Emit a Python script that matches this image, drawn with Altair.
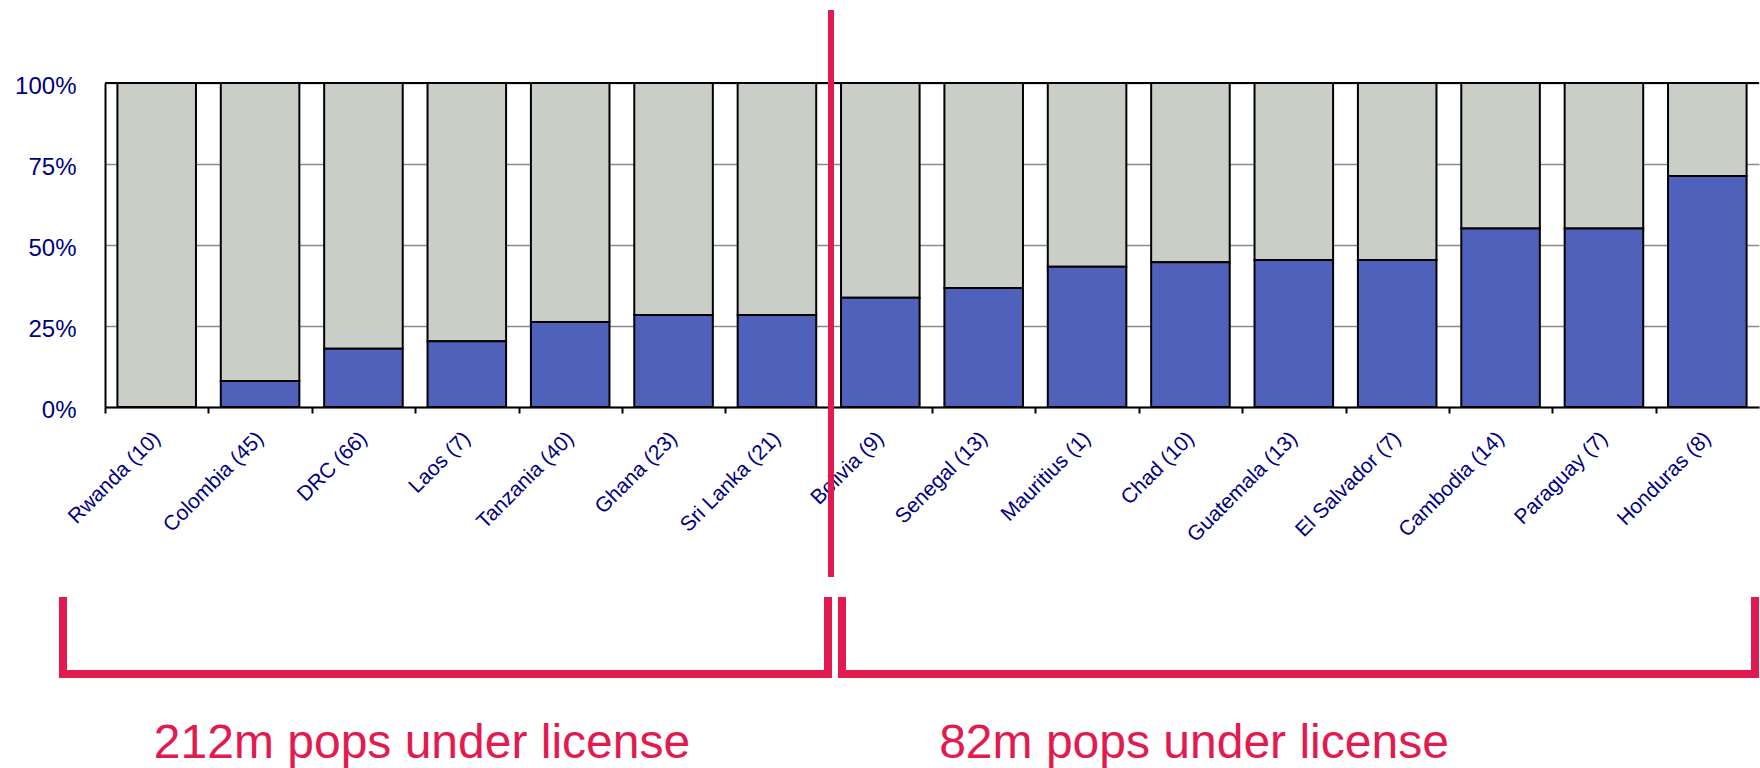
import altair as alt
import pandas as pd

# Countries with their licence counts, and the share held (percent) per market
countries = ["Rwanda", "Colombia", "DRC", "Laos", "Tanzania", "Ghana", "Sri Lanka",
             "Bolivia", "Senegal", "Mauritius", "Chad", "Guatemala", "El Salvador",
             "Cambodia", "Paraguay", "Honduras"]
licences = [10, 45, 66, 7, 40, 23, 21, 9, 13, 1, 10, 13, 7, 14, 7, 8]
share_pct = [0, 8, 18, 20.3, 26.2, 28.4, 28.4, 33.7, 36.7, 43.3, 44.7, 45.4, 45.4,
             55.1, 55.1, 71.3]

group_labels = ["212m pops under license", "82m pops under license"]

BLUE = "#5061BB"
GREY = "#C9CEC7"
NAVY = "#000080"
RED = "#E31A50"
FONT = "Liberation Sans"

PLOT_W = 1654
STEP = PLOT_W / len(countries)

df = pd.DataFrame({
    "label": [f"{c} ({n})" for c, n in zip(countries, licences)],
    "share": [v / 100 for v in share_pct],
})

# ticks sit between categories; labels stay centred under each bar
x_enc = alt.X(
    "label:N", sort=None, title=None,
    scale=alt.Scale(paddingInner=0.24, paddingOuter=0.12),
    axis=alt.Axis(
        labelAngle=-45, labelAlign="right", labelBaseline="middle",
        labelFont=FONT, labelFontSize=21, labelColor=NAVY,
        labelPadding=22, labelOverlap=False, labelLimit=400,
        tickOffset=-STEP / 2, labelOffset=STEP / 2,
        tickColor="black", tickWidth=2, tickSize=6,
        domainColor="black", domainWidth=2, grid=False,
    ),
)

y_axis = alt.Axis(
    values=[0, 0.25, 0.5, 0.75, 1], format=".0%", title=None,
    ticks=False, labelFont=FONT, labelFontSize=24, labelColor=NAVY,
    labelPadding=29, labelOffset=3,
    domainColor="black", domainWidth=2,
    gridColor="#8a8a8a", gridWidth=1.5,
)
y_scale = alt.Scale(domain=[0, 1], nice=False)

base = alt.Chart(df)

# remaining share stacked above the blue part, up to 100%
rest = base.transform_calculate(top="1").mark_bar(
    color=GREY, stroke="black", strokeWidth=2
).encode(
    x=x_enc,
    y=alt.Y("share:Q", scale=y_scale, axis=y_axis),
    y2="top:Q",
)

held = base.mark_bar(color=BLUE, stroke="black", strokeWidth=2).encode(
    x=x_enc,
    y=alt.Y("share:Q", scale=y_scale),
)

# black frame line along the 100% level
top_line = alt.Chart(pd.DataFrame({"v": [1.0]})).mark_rule(
    color="black", strokeWidth=2
).encode(y=alt.Y("v:Q", scale=y_scale))

one = pd.DataFrame({"k": [0]})


def red_rule(width, **enc):
    return alt.Chart(one).mark_rule(
        color=RED, strokeWidth=width, strokeCap="square"
    ).encode(**{k: alt.value(v) for k, v in enc.items()})


divider = alt.Chart(one).mark_rule(color=RED, strokeWidth=6).encode(
    x=alt.value(726), y=alt.value(-73), y2=alt.value(494)
)

brackets = [
    red_rule(8, x=-42, y=518, y2=591),
    red_rule(8, x=-42, x2=723, y=591),
    red_rule(8, x=723, y=518, y2=591),
    red_rule(8, x=737, y=518, y2=591),
    red_rule(8, x=737, x2=1650, y=591),
    red_rule(8, x=1650, y=518, y2=591),
]

captions = [
    alt.Chart(one).mark_text(
        font=FONT, fontSize=48, color=RED, align="center", baseline="alphabetic"
    ).encode(x=alt.value(xp), y=alt.value(675), text=alt.value(txt))
    for txt, xp in zip(group_labels, [317, 1089])
]

chart = alt.layer(rest, held, top_line, divider, *brackets, *captions).properties(
    width=PLOT_W, height=324,
    autosize=alt.AutoSizeParams(type="none"),
    padding={"left": 105, "top": 83, "right": 1, "bottom": 361},
    background="white",
).configure_view(stroke=None)

chart.save("out.html", embed_options={"renderer": "svg", "actions": False})
